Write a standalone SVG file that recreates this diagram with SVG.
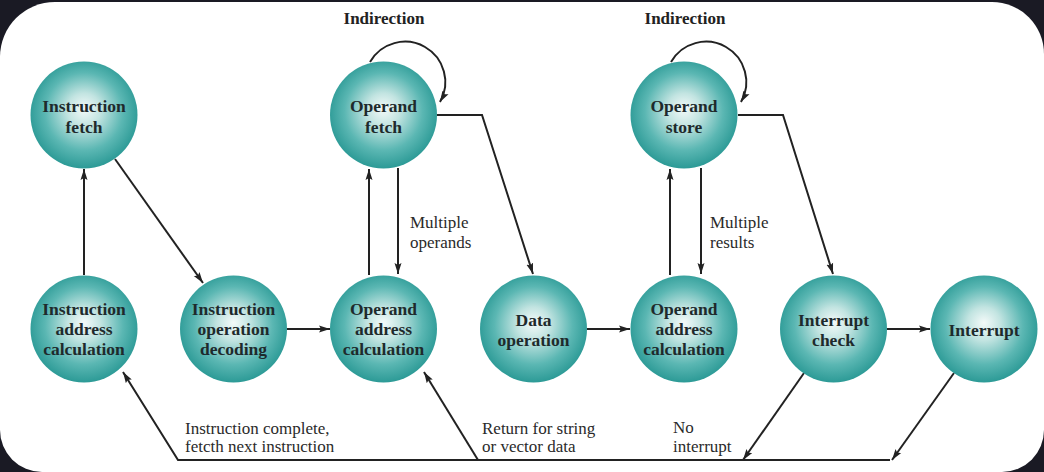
<svg xmlns="http://www.w3.org/2000/svg" width="1044" height="472" viewBox="0 0 1044 472">
<defs>
<radialGradient id="ball" cx="50%" cy="48%" r="52%" fx="50%" fy="44%">
<stop offset="0%" stop-color="#f4faf9"/>
<stop offset="30%" stop-color="#c2e4e1"/>
<stop offset="70%" stop-color="#5bb7b3"/>
<stop offset="100%" stop-color="#2c9a96"/>
</radialGradient>
<marker id="ah" markerUnits="userSpaceOnUse" markerWidth="12" markerHeight="8" refX="11" refY="4" orient="auto">
<path d="M0,0.5 L11,4 L0,7.5 L2,4 z" fill="#222"/>
</marker>
<style>
.node circle{fill:url(#ball);}
.nt{font-family:"Liberation Serif",serif;font-weight:bold;font-size:17.5px;fill:#1e2a2c;text-anchor:middle;}
.lb{font-family:"Liberation Serif",serif;font-size:17px;fill:#2a2a2a;}
.hd{font-family:"Liberation Serif",serif;font-weight:bold;font-size:17px;fill:#222;text-anchor:middle;}
.cn path{fill:none;stroke:#222;stroke-width:2;}
.ar{marker-end:url(#ah);}
</style>
</defs>
<rect x="0" y="0" width="1044" height="472" fill="#1a1a24"/>
<path d="M0,57 A55,55 0 0 1 55,2 L992,2 A52,52 0 0 1 1044,54 L1044,430 A42,42 0 0 1 1002,472 L42,472 A42,42 0 0 1 0,430 Z" fill="#ffffff"/>

<text class="hd" x="384" y="24">Indirection</text>
<text class="hd" x="685" y="24">Indirection</text>

<g class="cn" id="connectors">
<path class="ar" d="M84,275 L84,169"/>
<path class="ar" d="M115,159 L203,283"/>
<path class="ar" d="M287,329 L330,329"/>
<path class="ar" d="M369,275 L369,169"/>
<path class="ar" d="M398,168 L398,274"/>
<path class="ar" d="M437,115 L482,115 L533,274"/>
<path class="ar" d="M587,329 L630,329"/>
<path class="ar" d="M670,275 L670,169"/>
<path class="ar" d="M701,168 L701,274"/>
<path class="ar" d="M738,115 L783,115 L833,274"/>
<path class="ar" d="M887,329 L930,329"/>
<path class="ar" d="M804,373 L743,460"/>
<path class="ar" d="M954,373 L892,460"/>
<path class="ar" d="M890,460 L178,460 L123,372"/>
<path class="ar" d="M478,460 L424,372"/>
<path class="ar" d="M370,62 A39,39 0 1 1 440,102"/>
<path class="ar" d="M671,62 A39,39 0 1 1 741,102"/>
</g>

<g id="instruction-fetch" class="node"><circle cx="84" cy="115" r="53.5"/><text class="nt" x="84" y="112">Instruction</text><text class="nt" x="84" y="133">fetch</text></g>
<g id="operand-fetch" class="node"><circle cx="383.5" cy="115" r="53.5"/><text class="nt" x="383.5" y="112">Operand</text><text class="nt" x="383.5" y="133">fetch</text></g>
<g id="operand-store" class="node"><circle cx="684" cy="115" r="53.5"/><text class="nt" x="684" y="112">Operand</text><text class="nt" x="684" y="133">store</text></g>

<g id="instruction-address-calculation" class="node"><circle cx="84" cy="329" r="53.5"/><text class="nt" x="84" y="315">Instruction</text><text class="nt" x="84" y="335">address</text><text class="nt" x="84" y="355">calculation</text></g>
<g id="instruction-operation-decoding" class="node"><circle cx="233.5" cy="329" r="53.5"/><text class="nt" x="233.5" y="315">Instruction</text><text class="nt" x="233.5" y="335">operation</text><text class="nt" x="233.5" y="355">decoding</text></g>
<g id="operand-address-calculation-1" class="node"><circle cx="383.5" cy="329" r="53.5"/><text class="nt" x="383.5" y="315">Operand</text><text class="nt" x="383.5" y="335">address</text><text class="nt" x="383.5" y="355">calculation</text></g>
<g id="data-operation" class="node"><circle cx="533.5" cy="329" r="53.5"/><text class="nt" x="533.5" y="326">Data</text><text class="nt" x="533.5" y="346">operation</text></g>
<g id="operand-address-calculation-2" class="node"><circle cx="684" cy="329" r="53.5"/><text class="nt" x="684" y="315">Operand</text><text class="nt" x="684" y="335">address</text><text class="nt" x="684" y="355">calculation</text></g>
<g id="interrupt-check" class="node"><circle cx="833.5" cy="329" r="53.5"/><text class="nt" x="833.5" y="326">Interrupt</text><text class="nt" x="833.5" y="346">check</text></g>
<g id="interrupt" class="node"><circle cx="984" cy="329" r="53.5"/><text class="nt" x="984" y="336">Interrupt</text></g>

<g id="labels">
<text class="lb" x="410" y="228">Multiple</text>
<text class="lb" x="410" y="248">operands</text>
<text class="lb" x="710" y="228">Multiple</text>
<text class="lb" x="710" y="248">results</text>
<text class="lb" x="185" y="434">Instruction complete,</text>
<text class="lb" x="185" y="452">fetcth next instruction</text>
<text class="lb" x="482" y="434">Return for string</text>
<text class="lb" x="482" y="452">or vector data</text>
<text class="lb" x="673" y="433">No</text>
<text class="lb" x="673" y="452">interrupt</text>
</g>
</svg>
